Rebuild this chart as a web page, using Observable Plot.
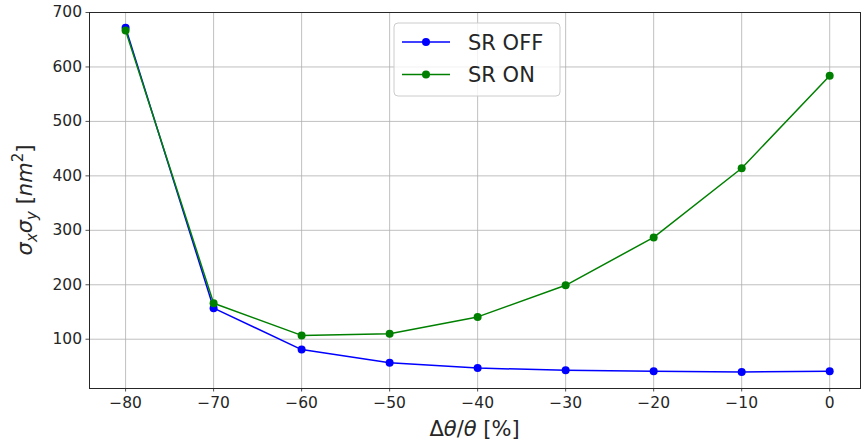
<!DOCTYPE html>
<html>
<head>
<meta charset="utf-8">
<script src="https://cdn.jsdelivr.net/npm/d3@7"></script>
<script src="https://cdn.jsdelivr.net/npm/@observablehq/plot@0.6"></script>
<style>
  body { margin: 0; background: white; }
  svg { font-family: "DejaVu Sans", sans-serif; }
</style>
</head>
<body>
<div id="chart"></div>
<script>
const xValues = [-80, -70, -60, -50, -40, -30, -20, -10, 0];
const srOff = [672, 157, 81, 57, 47, 43, 41, 40, 41];
const srOn = [667, 166, 107, 110, 141, 199, 287, 414, 584];
const seriesNames = ["SR OFF", "SR ON"];
const seriesColors = ["blue", "green"];
const xTicks = [-80, -70, -60, -50, -40, -30, -20, -10, 0];
const yTicks = [100, 200, 300, 400, 500, 600, 700];

const data = [];
[srOff, srOn].forEach((vals, si) => {
  xValues.forEach((x, i) => data.push({series: seriesNames[si], x, y: vals[i]}));
});

const W = 861, H = 445;
const mL = 89, mR = 1, mT = 12, mB = 57;
const fmt = v => (v < 0 ? "\u2212" + Math.abs(v) : String(v));

const chart = Plot.plot({
  width: W,
  height: H,
  marginLeft: mL,
  marginRight: mR,
  marginTop: mT,
  marginBottom: mB,
  style: {fontFamily: "DejaVu Sans, sans-serif", fontSize: "15px", color: "#262626", background: "white"},
  x: {domain: [-84.1, 3.5], label: null},
  y: {domain: [9.5, 700], label: null},
  color: {domain: seriesNames, range: seriesColors},
  marks: [
    Plot.gridX(xTicks, {stroke: "#b0b0b0", strokeOpacity: 1, strokeWidth: 0.8}),
    Plot.gridY(yTicks, {stroke: "#b0b0b0", strokeOpacity: 1, strokeWidth: 0.8}),
    Plot.axisX(xTicks, {tickSize: 3.5, tickPadding: 5, tickFormat: fmt, fontSize: 15.5, stroke: "#262626", strokeWidth: 0.8, label: null}),
    Plot.axisY(yTicks, {tickSize: 3.5, tickPadding: 4, tickFormat: fmt, fontSize: 15.5, stroke: "#262626", strokeWidth: 0.8, label: null}),
    Plot.line(data, {x: "x", y: "y", z: "series", stroke: "series", strokeWidth: 1.5}),
    Plot.dot(data, {x: "x", y: "y", fill: "series", r: 4, stroke: null}),
    Plot.frame({stroke: "#262626", strokeWidth: 1})
  ]
});
document.getElementById("chart").appendChild(chart);

const svg = d3.select(chart);

// Y axis label
const yl = svg.append("text")
  .attr("transform", `translate(32, ${(mT + H - mB) / 2}) rotate(-90)`)
  .attr("text-anchor", "middle")
  .attr("font-size", 21)
  .attr("fill", "#262626");
yl.append("tspan").attr("font-style", "italic").text("σ");
yl.append("tspan").attr("font-style", "italic").attr("font-size", 15).attr("dy", 5).text("x");
yl.append("tspan").attr("font-style", "italic").attr("dy", -5).text("σ");
yl.append("tspan").attr("font-style", "italic").attr("font-size", 15).attr("dy", 5).text("y");
yl.append("tspan").attr("dy", -5).text(" [");
yl.append("tspan").attr("font-style", "italic").text("nm");
yl.append("tspan").attr("font-size", 15).attr("dy", -9).text("2");
yl.append("tspan").attr("dy", 9).text("]");

// X axis label
const xl = svg.append("text")
  .attr("x", (mL + W - mR) / 2)
  .attr("y", 436)
  .attr("text-anchor", "middle")
  .attr("font-size", 21)
  .attr("fill", "#262626");
xl.append("tspan").text("Δ");
xl.append("tspan").attr("font-style", "italic").text("θ");
xl.append("tspan").text("/");
xl.append("tspan").attr("font-style", "italic").text("θ");
xl.append("tspan").text(" [%]");

// Legend
const lg = svg.append("g");
lg.append("rect")
  .attr("x", 394).attr("y", 23).attr("width", 166).attr("height", 73)
  .attr("rx", 4).attr("fill", "white").attr("fill-opacity", 0.8)
  .attr("stroke", "#cccccc").attr("stroke-width", 1);
seriesNames.forEach((name, i) => {
  const yy = 42 + i * 32.5;
  lg.append("line").attr("x1", 402).attr("x2", 450).attr("y1", yy).attr("y2", yy)
    .attr("stroke", seriesColors[i]).attr("stroke-width", 1.5);
  lg.append("circle").attr("cx", 426).attr("cy", yy).attr("r", 4).attr("fill", seriesColors[i]);
  lg.append("text").attr("x", 468).attr("y", yy + 7.5).attr("font-size", 21)
    .attr("text-anchor", "start")
    .attr("fill", "#262626").text(name);
});
</script>
</body>
</html>
